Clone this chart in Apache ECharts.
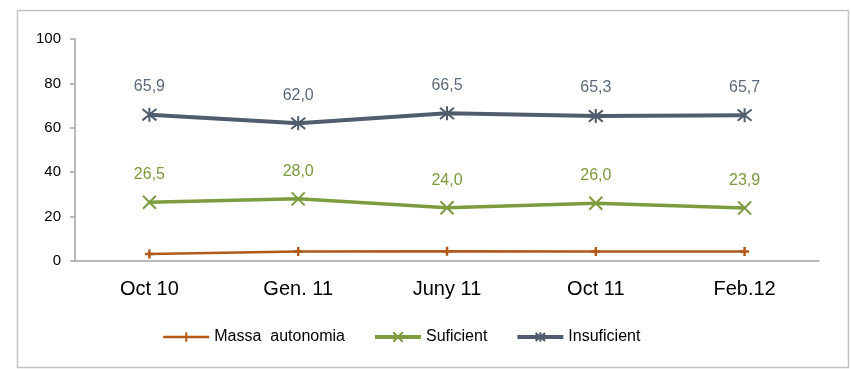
<!DOCTYPE html>
<html>
<head>
<meta charset="utf-8">
<script src="https://cdn.jsdelivr.net/npm/echarts@6/dist/echarts.min.js"></script>
<style>
  html, body { margin: 0; padding: 0; background: #fff; }
  #chart { width: 851px; height: 369px; }
</style>
</head>
<body>
<div id="chart"></div>
<script>
// Periods on the horizontal axis
const periods = ['Oct 10', 'Gen. 11', 'Juny 11', 'Oct 11', 'Feb.12'];

// Percent of respondents per category
const massaAutonomia = [3.1, 4.3, 4.4, 4.3, 4.3];
const suficient = [26.5, 28.0, 24.0, 26.0, 23.9];
const insuficient = [65.9, 62.0, 66.5, 65.3, 65.7];

const yTicks = [0, 20, 40, 60, 80, 100];

const FONT = '"Liberation Sans", Arial, sans-serif';
const COL_MASSA = '#b0591a';
const COL_SUF = '#7d9c40';
const COL_INS = '#4f5d6e';

// Stroked marker shapes: plus (vertical tick on the line), cross, asterisk
const plusPath = 'path://M5,0L5,10M0,5L10,5';
const crossPath = 'path://M0,0L10,10M10,0L0,10';
const starPath = 'path://M0,0L10,10M10,0L0,10M5,-1.2L5,11.2';

const fmt = v => v.toFixed(1).replace('.', ',');

const chart = echarts.init(document.getElementById('chart'));
chart.setOption({
  animation: false,
  textStyle: { fontFamily: FONT },
  graphic: [{
    type: 'rect',
    shape: { x: 17.5, y: 10.5, width: 831, height: 357 },
    style: { fill: 'none', stroke: '#c4c4c4', lineWidth: 1.5 },
    silent: true
  }],
  grid: { left: 75, right: 32, top: 39, bottom: 108 },
  legend: {
    left: 157,
    top: 324,
    itemWidth: 46,
    itemHeight: 12,
    itemGap: 28,
    textStyle: { fontFamily: FONT, fontSize: 16, color: '#000' },
    data: [
      { name: 'Massa  autonomia', lineStyle: { width: 2.5 } },
      { name: 'Suficient', lineStyle: { width: 4 } },
      { name: 'Insuficient', lineStyle: { width: 4 } }
    ]
  },
  xAxis: {
    type: 'category',
    data: periods,
    boundaryGap: true,
    axisLine: { lineStyle: { color: '#a3a3a3', width: 1.5 } },
    axisTick: { length: 6, lineStyle: { color: '#a3a3a3', width: 1.5 } },
    axisLabel: { fontFamily: FONT, fontSize: 20, color: '#000', margin: 18 }
  },
  yAxis: {
    type: 'value',
    min: yTicks[0],
    max: yTicks[yTicks.length - 1],
    interval: 20,
    splitLine: { show: false },
    axisLine: { show: true, lineStyle: { color: '#a3a3a3', width: 1.5 } },
    axisTick: { show: true, length: 5, lineStyle: { color: '#a3a3a3', width: 1.5 } },
    axisLabel: { fontFamily: FONT, fontSize: 15, color: '#000', margin: 14 }
  },
  series: [
    {
      name: 'Massa  autonomia',
      type: 'line',
      data: massaAutonomia,
      symbol: plusPath,
      symbolSize: [9, 9],
      lineStyle: { color: COL_MASSA, width: 2.5 },
      itemStyle: { color: 'rgba(0,0,0,0)', borderColor: COL_MASSA, borderWidth: 2.5 },
      z: 3
    },
    {
      name: 'Suficient',
      type: 'line',
      data: suficient,
      symbol: crossPath,
      symbolSize: 13,
      lineStyle: { color: COL_SUF, width: 3.5 },
      itemStyle: { color: 'rgba(0,0,0,0)', borderColor: COL_SUF, borderWidth: 2 },
      label: {
        show: true,
        position: 'top',
        distance: 12,
        fontFamily: FONT,
        fontSize: 16,
        color: '#7a9a3c',
        formatter: p => fmt(p.value)
      },
      z: 4
    },
    {
      name: 'Insuficient',
      type: 'line',
      data: insuficient,
      symbol: starPath,
      symbolSize: 14,
      lineStyle: { color: COL_INS, width: 4 },
      itemStyle: { color: 'rgba(0,0,0,0)', borderColor: COL_INS, borderWidth: 2 },
      label: {
        show: true,
        position: 'top',
        distance: 12,
        fontFamily: FONT,
        fontSize: 16,
        color: '#5c6b7c',
        formatter: p => fmt(p.value)
      },
      z: 5
    }
  ]
});
</script>
</body>
</html>
